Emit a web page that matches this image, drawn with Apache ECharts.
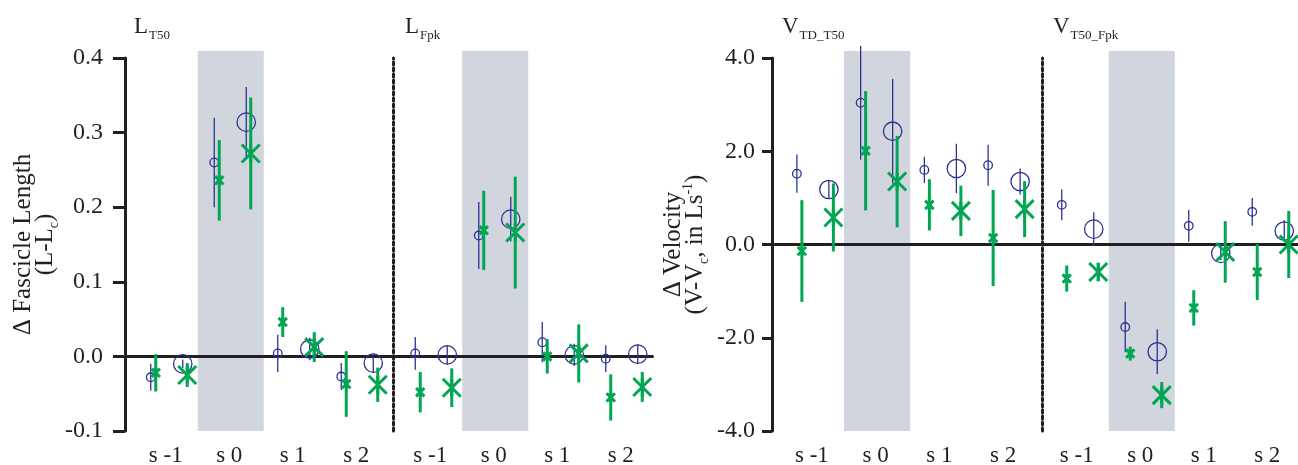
<!DOCTYPE html>
<html>
<head>
<meta charset="utf-8">
<script src="https://cdn.jsdelivr.net/npm/echarts@6/dist/echarts.min.js"></script>
<style>
  html, body { margin: 0; padding: 0; background: #fff; }
  #chart { width: 1298px; height: 465px; }
</style>
</head>
<body>
<div id="chart"></div>
<script>
// Stride categories shared by all four panels
const categories = ['s -1', 's 0', 's 1', 's 2'];
const shadedCategory = 's 0';

// Each entry: [mean, error]
// Fascicle length at T50
const lT50_smallCircle = [[-0.028, 0.018], [0.260, 0.060], [0.004, 0.025], [-0.027, 0.018]];
const lT50_smallCross  = [[-0.022, 0.025], [0.236, 0.054], [0.046, 0.020], [-0.037, 0.044]];
const lT50_bigCircle   = [[-0.010, 0.006], [0.314, 0.047], [0.010, 0.015], [-0.009, 0.013]];
const lT50_bigCross    = [[-0.025, 0.016], [0.272, 0.075], [0.0125, 0.020], [-0.038, 0.023]];

// Fascicle length at force peak
const lFpk_smallCircle = [[0.004, 0.022], [0.162, 0.045], [0.019, 0.027], [-0.003, 0.018]];
const lFpk_smallCross  = [[-0.048, 0.027], [0.169, 0.053], [0.000, 0.023], [-0.055, 0.031]];
const lFpk_bigCircle   = [[0.002, 0.013], [0.184, 0.030], [0.002, 0.015], [0.003, 0.013]];
const lFpk_bigCross    = [[-0.042, 0.026], [0.166, 0.075], [0.004, 0.039], [-0.041, 0.020]];

// Velocity TD -> T50
const vTdT50_smallCircle = [[1.52, 0.41], [3.04, 1.22], [1.60, 0.28], [1.70, 0.44]];
const vTdT50_smallCross  = [[-0.14, 1.09], [2.01, 1.28], [0.85, 0.55], [0.14, 1.03]];
const vTdT50_bigCircle   = [[1.18, 0.18], [2.43, 1.12], [1.63, 0.53], [1.35, 0.28]];
const vTdT50_bigCross    = [[0.58, 0.73], [1.35, 0.98], [0.72, 0.54], [0.76, 0.60]];

// Velocity T50 -> force peak
const vT50Fpk_smallCircle = [[0.85, 0.33], [-1.77, 0.54], [0.40, 0.34], [0.70, 0.30]];
const vT50Fpk_smallCross  = [[-0.73, 0.28], [-2.34, 0.15], [-1.36, 0.38], [-0.59, 0.60]];
const vT50Fpk_bigCircle   = [[0.33, 0.36], [-2.30, 0.48], [-0.19, 0.15], [0.29, 0.23]];
const vT50Fpk_bigCross    = [[-0.59, 0.20], [-3.23, 0.28], [-0.16, 0.66], [0.00, 0.72]];

// Axis ranges
const lengthAxis = { min: -0.1, max: 0.4, interval: 0.1 };
const velocityAxis = { min: -4, max: 4, interval: 2 };

const BLUE = '#2E3192';
const GREEN = '#00A651';
const INK = '#231F20';
const SHADE = '#D1D5DD';
const FONT = '"Liberation Serif", "Times New Roman", serif';

const markerStyles = {
  smallCircle: { shape: 'circle', size: 4.3, dx: -15, color: BLUE, width: 1.3, z: 3 },
  smallCross:  { shape: 'cross',  size: 4.2, dx: -10, color: GREEN, width: 3, z: 4 },
  bigCircle:   { shape: 'circle', size: 9.2, dx: 17, color: BLUE, width: 1.3, z: 3 },
  bigCross:    { shape: 'cross',  size: 9.0, dx: 21.5, color: GREEN, width: 3, z: 4 }
};

const panels = [
  { sets: { smallCircle: lT50_smallCircle, smallCross: lT50_smallCross, bigCircle: lT50_bigCircle, bigCross: lT50_bigCross }, range: lengthAxis },
  { sets: { smallCircle: lFpk_smallCircle, smallCross: lFpk_smallCross, bigCircle: lFpk_bigCircle, bigCross: lFpk_bigCross }, range: lengthAxis },
  { sets: { smallCircle: vTdT50_smallCircle, smallCross: vTdT50_smallCross, bigCircle: vTdT50_bigCircle, bigCross: vTdT50_bigCross }, range: velocityAxis },
  { sets: { smallCircle: vT50Fpk_smallCircle, smallCross: vT50Fpk_smallCross, bigCircle: vT50Fpk_bigCircle, bigCross: vT50Fpk_bigCross }, range: velocityAxis }
];

// Panel boxes (pixels)
const grids = [
  { left: 134, top: 58, width: 254, height: 373 },
  { left: 398.5, top: 58, width: 254, height: 373 },
  { left: 780, top: 58, width: 255, height: 373 },
  { left: 1045, top: 58, width: 254, height: 373 },
  // full-width strips carrying the zero baseline of each chart
  { left: 125, top: 58, width: 527.5, height: 373 },
  { left: 772, top: 58, width: 527, height: 373 }
];

const tickFmt = v => v.toFixed(1);

const xAxes = grids.map((g, i) => {
  if (i >= 4) {
    return { gridIndex: i, type: 'value', min: 0, max: 1, show: false };
  }
  return {
    gridIndex: i,
    type: 'category',
    data: categories,
    boundaryGap: true,
    axisLine: { lineStyle: { color: INK, width: 3 } },
    axisTick: { alignWithLabel: true, length: 7, lineStyle: { color: INK, width: 3 } },
    axisLabel: { color: INK, fontFamily: FONT, fontSize: 23, margin: 13 },
    splitLine: { show: false }
  };
});

function nameRich() {
  return {
    a: { fontFamily: FONT, fontSize: 25, color: INK, lineHeight: 22, verticalAlign: 'top' },
    sb: { fontFamily: FONT, fontSize: 14, color: INK, lineHeight: 12, padding: [14, 0, 0, 0], verticalAlign: 'top' },
    sp: { fontFamily: FONT, fontSize: 14, color: INK, lineHeight: 12, padding: [-2, 0, 0, 0], verticalAlign: 'top' }
  };
}

// Dotted separator between the two panels of a chart
const separatorLine = { show: true, lineStyle: { color: INK, width: 3, type: 'dotted' } };

const yAxes = [
  {
    gridIndex: 0, type: 'value', ...lengthAxis, offset: 9,
    axisLine: { show: true, lineStyle: { color: INK, width: 3 } },
    axisTick: { show: true, length: 12, lineStyle: { color: INK, width: 3 } },
    axisLabel: { color: INK, fontFamily: FONT, fontSize: 24, margin: 22, formatter: tickFmt },
    splitLine: { show: false },
    name: '{a|Δ Fascicle Length}\n{a|(L-L}{sb|c}{a|)}',
    nameLocation: 'middle', nameRotate: 90, nameGap: 67,
    nameTextStyle: { rich: nameRich() }
  },
  {
    gridIndex: 1, type: 'value', ...lengthAxis, offset: 5.5,
    axisLine: separatorLine,
    axisTick: { show: false }, axisLabel: { show: false }, splitLine: { show: false }
  },
  {
    gridIndex: 2, type: 'value', ...velocityAxis, offset: 8,
    axisLine: { show: true, lineStyle: { color: INK, width: 3 } },
    axisTick: { show: true, length: 10, lineStyle: { color: INK, width: 3 } },
    axisLabel: { color: INK, fontFamily: FONT, fontSize: 24, margin: 17, formatter: tickFmt },
    splitLine: { show: false },
    name: '{a|Δ Velocity}\n{a|(V-V}{sb|c}{a|, in Ls}{sp|-1}{a|)}',
    nameLocation: 'middle', nameRotate: 90, nameGap: 67,
    nameTextStyle: { rich: nameRich() }
  },
  {
    gridIndex: 3, type: 'value', ...velocityAxis, offset: 3,
    axisLine: separatorLine,
    axisTick: { show: false }, axisLabel: { show: false }, splitLine: { show: false }
  },
  { gridIndex: 4, type: 'value', ...lengthAxis, show: false },
  { gridIndex: 5, type: 'value', ...velocityAxis, show: false }
];

// Grey band behind the s 0 stride
function shadeSeries(p) {
  const r = panels[p].range;
  return {
    type: 'custom', xAxisIndex: p, yAxisIndex: p, z: 0, silent: true,
    data: [[categories.indexOf(shadedCategory)]],
    encode: { x: 0 },
    renderItem: (params, api) => {
      const idx = api.value(0);
      const top = api.coord([idx, r.max]);
      const bot = api.coord([idx, r.min]);
      const bw = api.size([1, 0])[0] * 1.04;
      return {
        type: 'rect',
        shape: { x: top[0] - bw / 2 + 1.5, y: top[1] - 7, width: bw, height: bot[1] - top[1] + 7 },
        style: { fill: SHADE }
      };
    }
  };
}

// Mean marker with its error bar
function markerSeries(p, kind) {
  const st = markerStyles[kind];
  const values = panels[p].sets[kind];
  return {
    type: 'custom', xAxisIndex: p, yAxisIndex: p, z: st.z, silent: true,
    data: categories.map((c, i) => [i, values[i][0], values[i][1]]),
    encode: { x: 0, y: 1 },
    renderItem: (params, api) => {
      const i = api.value(0), m = api.value(1), e = api.value(2);
      const c = api.coord([i, m]);
      const hi = api.coord([i, m + e])[1];
      const lo = api.coord([i, m - e])[1];
      const x = c[0] + st.dx, y = c[1], s = st.size;
      const line = (x1, y1, x2, y2) => ({
        type: 'line', shape: { x1, y1, x2, y2 },
        style: { stroke: st.color, lineWidth: st.width }
      });
      const children = [line(x, hi, x, lo)];
      if (st.shape === 'circle') {
        children.push({
          type: 'circle', shape: { cx: x, cy: y, r: s },
          style: { fill: null, stroke: st.color, lineWidth: st.width }
        });
      } else {
        children.push(line(x - s, y - s, x + s, y + s));
        children.push(line(x - s, y + s, x + s, y - s));
        children.push(line(x, y - s, x, y + s));
      }
      return { type: 'group', children };
    }
  };
}

const series = [];
for (let p = 0; p < 4; p++) series.push(shadeSeries(p));
series.push({
  type: 'line', xAxisIndex: 4, yAxisIndex: 4, z: 2, silent: true, symbol: 'none',
  data: [[0, 0], [1, 0]], lineStyle: { color: INK, width: 3 }
});
series.push({
  type: 'line', xAxisIndex: 5, yAxisIndex: 5, z: 2, silent: true, symbol: 'none',
  data: [[0, 0], [1, 0]], lineStyle: { color: INK, width: 3 }
});
for (let p = 0; p < 4; p++) {
  ['smallCircle', 'bigCircle', 'smallCross', 'bigCross'].forEach(k => series.push(markerSeries(p, k)));
}

const titleRich = {
  m: { fontFamily: FONT, fontSize: 23, fontWeight: 'normal', color: INK, lineHeight: 22, verticalAlign: 'top' },
  s: { fontFamily: FONT, fontSize: 13, fontWeight: 'normal', color: INK, lineHeight: 13, padding: [14, 0, 0, 1], verticalAlign: 'top' }
};
const panelTitles = [
  { main: 'L', sub: 'T50', left: 134 },
  { main: 'L', sub: 'Fpk', left: 405 },
  { main: 'V', sub: 'TD_T50', left: 782 },
  { main: 'V', sub: 'T50_Fpk', left: 1053 }
];

const chart = echarts.init(document.getElementById('chart'), null, { renderer: 'canvas' });
chart.setOption({
  animation: false,
  backgroundColor: '#fff',
  title: panelTitles.map(t => ({
    text: `{m|${t.main}}{s|${t.sub}}`,
    left: t.left, top: 15, padding: 0,
    textStyle: { fontWeight: 'normal', rich: titleRich }
  })),
  grid: grids.map(g => ({ ...g, containLabel: false, outerBoundsMode: 'none' })),
  xAxis: xAxes,
  yAxis: yAxes,
  series
});
</script>
</body>
</html>
